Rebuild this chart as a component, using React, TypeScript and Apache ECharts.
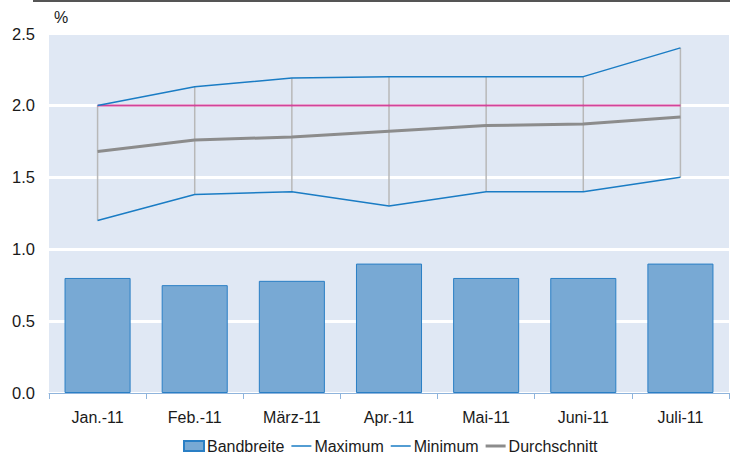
import React, { useEffect, useRef } from "react";
import * as echarts from "echarts";

const categories = ["Jan.-11", "Feb.-11", "März-11", "Apr.-11", "Mai-11", "Juni-11", "Juli-11"];
const bandbreite = [0.8, 0.75, 0.78, 0.9, 0.8, 0.8, 0.9];
const maximum = [2.0, 2.13, 2.19, 2.2, 2.2, 2.2, 2.4];
const minimum = [1.2, 1.38, 1.4, 1.3, 1.4, 1.4, 1.5];
const durchschnitt = [1.68, 1.76, 1.78, 1.82, 1.86, 1.87, 1.92];
const zielwert = [2.0, 2.0, 2.0, 2.0, 2.0, 2.0, 2.0];
const yTicks = { min: 0, max: 2.5, interval: 0.5 };

const FONT = "'Liberation Sans', Arial, Helvetica, sans-serif";
const thinLine = "path://M0,0 L20,0 L20,1.5 L0,1.5 Z";
const thickLine = "path://M0,0 L20,0 L20,3 L0,3 Z";

export default function App() {
  const ref = useRef<HTMLDivElement>(null);
  useEffect(() => {
    if (!ref.current) return;
    const chart = echarts.init(ref.current, null, { renderer: "svg" });
    const hiLo = categories.map((c, i) => [i, minimum[i], maximum[i]]);
    chart.setOption({
      animation: false,
      textStyle: { fontFamily: FONT },
      graphic: [
        { type: "rect", shape: { x: 33, y: 0, width: 697, height: 2 }, style: { fill: "#555555" } },
        { type: "text", left: 54, top: 9, style: { text: "%", fontSize: 16, fontFamily: FONT, fill: "#1a1a1a" } },
      ],
      grid: {
        left: 49,
        right: 1,
        top: 33.5,
        bottom: 63,
        show: true,
        backgroundColor: "#e0e8f4",
        borderWidth: 0,
      },
      legend: {
        bottom: 2,
        left: 183,
        padding: 0,
        itemWidth: 20,
        itemHeight: 10,
        itemGap: 7,
        textStyle: { fontSize: 16, color: "#1a1a1a", fontFamily: FONT, padding: [0, 0, 0, -2] },
        data: [
          { name: "Bandbreite", icon: "rect" },
          { name: "Maximum", icon: thinLine },
          { name: "Minimum", icon: thinLine },
          { name: "Durchschnitt", icon: thickLine },
        ],
      },
      xAxis: {
        type: "category",
        data: categories,
        boundaryGap: true,
        axisLine: { lineStyle: { color: "#8fb4dc", width: 1 } },
        axisTick: { show: true, length: 6, lineStyle: { color: "#8fb4dc" } },
        axisLabel: { fontSize: 16, color: "#1a1a1a", margin: 16, fontFamily: FONT },
        splitLine: { show: false },
      },
      yAxis: {
        type: "value",
        min: yTicks.min,
        max: yTicks.max,
        interval: yTicks.interval,
        axisLine: { show: false },
        axisTick: { show: false },
        axisLabel: {
          fontSize: 16.5,
          color: "#1a1a1a",
          margin: 14,
          fontFamily: FONT,
          formatter: (v: number) => v.toFixed(1),
        },
        splitLine: { show: true, lineStyle: { color: "#ffffff", width: 3 } },
      },
      series: [
        {
          name: "Bandbreite",
          type: "bar",
          data: bandbreite,
          barWidth: "68%",
          itemStyle: { color: "#78a9d4", borderColor: "#2a7fc5", borderWidth: 1 },
          z: 2,
        },
        {
          name: "Spanne",
          type: "custom",
          data: hiLo,
          z: 3,
          renderItem: (params: any, api: any) => {
            const x = api.value(0);
            const lo = api.coord([x, api.value(1)]);
            const hi = api.coord([x, api.value(2)]);
            return {
              type: "line",
              shape: { x1: lo[0], y1: lo[1], x2: hi[0], y2: hi[1] },
              style: { stroke: "#b8b8b8", lineWidth: 1.5 },
            };
          },
        },
        {
          name: "Ziel",
          type: "line",
          data: zielwert,
          symbol: "none",
          lineStyle: { color: "#d0449a", width: 2 },
          itemStyle: { color: "#d0449a" },
          z: 4,
        },
        {
          name: "Maximum",
          type: "line",
          data: maximum,
          symbol: "none",
          lineStyle: { color: "#1a7cc4", width: 1.5 },
          itemStyle: { color: "#1a7cc4" },
          z: 5,
        },
        {
          name: "Minimum",
          type: "line",
          data: minimum,
          symbol: "none",
          lineStyle: { color: "#1a7cc4", width: 1.5 },
          itemStyle: { color: "#1a7cc4" },
          z: 5,
        },
        {
          name: "Durchschnitt",
          type: "line",
          data: durchschnitt,
          symbol: "none",
          lineStyle: { color: "#8c8c8c", width: 3 },
          itemStyle: { color: "#8c8c8c" },
          z: 6,
        },
      ],
    });
    return () => chart.dispose();
  }, []);
  return <div ref={ref} style={{ width: 730, height: 456, position: "absolute", left: 0, top: 0 }} />;
}
